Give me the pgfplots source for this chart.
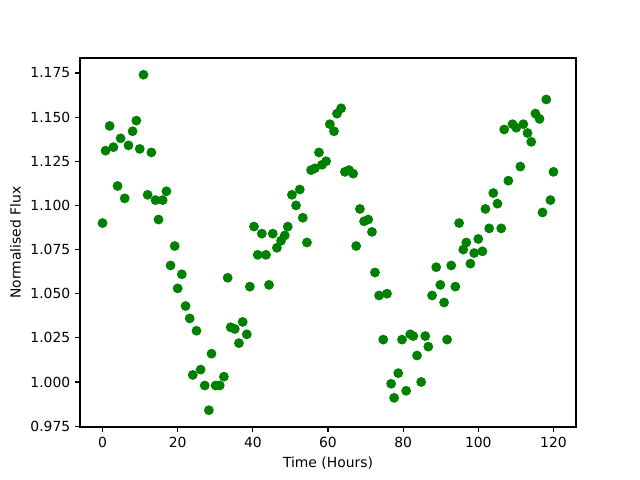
\documentclass[border=0pt]{standalone}
\usepackage{pgfplots}
\pgfplotsset{compat=1.18}
\usepackage{fontspec}
\setmainfont{DejaVu Sans}
\definecolor{mplgreen}{rgb}{0,0.5,0}
\begin{document}
\begin{tikzpicture}
\useasboundingbox (-57.6pt,-38.16pt) rectangle (403.2pt,307.44pt);
\begin{axis}[
  scale only axis,
  width=357.1pt, height=265.7pt,
  xmin=-6, xmax=126,
  ymin=0.9745, ymax=1.1835,
  xtick={0,20,40,60,80,100,120},
  ytick={0.975,1.000,1.025,1.050,1.075,1.100,1.125,1.150,1.175},
  yticklabel style={/pgf/number format/.cd, fixed, fixed zerofill, precision=3},
  /pgf/number format/assume math mode=true,
  tick label style={font=\fontsize{10}{12}\selectfont},
  label style={font=\fontsize{10}{12}\selectfont},
  tick align=outside,
  xtick pos=bottom, ytick pos=left,
  major tick length=3.5pt,
  every tick/.style={line width=0.8pt, black},
  axis line style={line width=0.8pt},
  xlabel={Time (Hours)},
  ylabel={Normalised Flux},
]
\addplot[only marks, mark=*, mark size=3pt, mplgreen, mark options={draw=mplgreen, fill=mplgreen, line width=1pt}] coordinates {
(0,1.090) (0.8,1.131) (1.9,1.145) (2.9,1.133) (4.0,1.111) (4.8,1.138) (5.9,1.104) (6.9,1.134)
(8.0,1.142) (9.0,1.148) (9.9,1.132) (10.9,1.174) (12.0,1.106) (13.0,1.130) (14.1,1.103) (14.9,1.092)
(16.0,1.103) (17.0,1.108) (18.1,1.066) (19.2,1.077) (20.0,1.053) (21.1,1.061) (22.1,1.043) (23.2,1.036)
(24.0,1.004) (25.0,1.029) (26.1,1.007) (27.2,0.998) (28.3,0.984) (29.0,1.016) (30.1,0.998) (31.2,0.998)
(32.3,1.003) (33.3,1.059) (34.1,1.031) (35.2,1.030) (36.3,1.022) (37.3,1.034) (38.4,1.027) (39.2,1.054)
(40.3,1.088) (41.3,1.072) (42.4,1.084) (43.5,1.072) (44.3,1.055) (45.3,1.084) (46.4,1.076) (47.5,1.080)
(48.5,1.083) (49.3,1.088) (50.4,1.106) (51.5,1.100) (52.5,1.109) (53.3,1.093) (54.4,1.079) (55.5,1.120)
(56.5,1.121) (57.6,1.130) (58.4,1.123) (59.5,1.125) (60.5,1.146) (61.6,1.142) (62.4,1.152) (63.5,1.155)
(64.5,1.119) (65.6,1.120) (66.7,1.118) (67.5,1.077) (68.5,1.098) (69.6,1.091) (70.7,1.092) (71.7,1.085)
(72.5,1.062) (73.6,1.049) (74.7,1.024) (75.7,1.050) (76.8,0.999) (77.6,0.991) (78.7,1.005) (79.7,1.024)
(80.8,0.995) (81.9,1.027) (82.7,1.026) (83.7,1.015) (84.8,1.000) (85.9,1.026) (86.7,1.020) (87.7,1.049)
(88.8,1.065) (89.9,1.055) (90.9,1.045) (91.7,1.024) (92.8,1.066) (93.9,1.054) (94.9,1.090) (96.0,1.075)
(96.8,1.079) (97.9,1.067) (98.9,1.073) (100.0,1.081) (101.1,1.074) (101.9,1.098) (102.9,1.087) (104.0,1.107)
(105.1,1.101) (106.1,1.087) (106.9,1.143) (108.0,1.114) (109.1,1.146) (110.1,1.144) (111.2,1.122) (112.0,1.146)
(113.1,1.141) (114.1,1.136) (115.2,1.152) (116.3,1.149) (117.1,1.096) (118.1,1.160) (119.2,1.103) (120.0,1.119)
};
\end{axis}
\end{tikzpicture}
\end{document}
